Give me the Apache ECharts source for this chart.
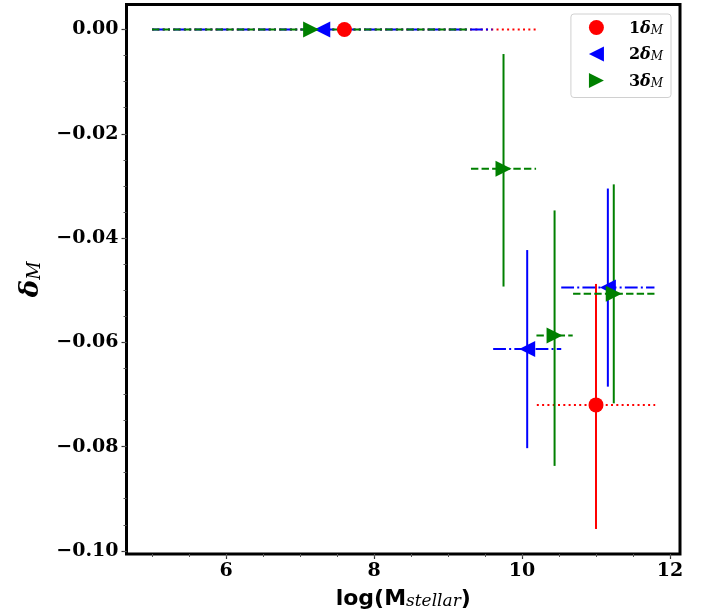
<!DOCTYPE html>
<html>
<head>
<meta charset="utf-8">
<script src="https://cdn.jsdelivr.net/npm/echarts@6/dist/echarts.min.js"></script>
<style>
  html, body { margin: 0; padding: 0; background: #fff; }
  #chart { width: 711px; height: 615px; }
</style>
</head>
<body>
<div id="chart"></div>
<script>
// values: x, y, x error (symmetric), y error below / above
var s1X = [7.6, 11.0];
var s1Y = [0.0, -0.072];
var s1XErr = [2.6, 0.8];
var s1YErrLo = [0, 0.0238];
var s1YErrHi = [0, 0.0232];

var s2X = [7.3, 10.07, 11.16];
var s2Y = [0.0, -0.0613, -0.0495];
var s2XErr = [2.3, 0.46, 0.63];
var s2YErrLo = [0, 0.019, 0.019];
var s2YErrHi = [0, 0.019, 0.019];

var s3X = [7.15, 9.75, 10.44, 11.24];
var s3Y = [0.0, -0.0267, -0.0587, -0.0507];
var s3XErr = [2.15, 0.44, 0.245, 0.55];
var s3YErrLo = [0, 0.0226, 0.025, 0.021];
var s3YErrHi = [0, 0.022, 0.024, 0.021];

var xTicks = [6, 8, 10, 12];
var yTicks = [-0.10, -0.08, -0.06, -0.04, -0.02, 0.00];
var xMinor = [5, 5.5, 6, 6.5, 7, 7.5, 8, 8.5, 9, 9.5, 10, 10.5, 11, 11.5, 12];
var yMinor = [-0.1, -0.095, -0.09, -0.085, -0.08, -0.075, -0.07, -0.065, -0.06, -0.055,
              -0.05, -0.045, -0.04, -0.035, -0.03, -0.025, -0.02, -0.015, -0.01, -0.005, 0];

var names = ['1δM', '2δM', '3δM'];
var colors = ['#ff0000', '#0000ff', '#008000'];

function rows(xs, ys, xe, lo, hi) {
  return xs.map(function (x, i) { return [x, ys[i], xe[i], lo[i], hi[i]]; });
}

function errorBars(color, dash) {
  return function (params, api) {
    var x = api.value(0), y = api.value(1), xe = api.value(2);
    var lo = api.value(3), hi = api.value(4);
    var l = api.coord([x - xe, y]);
    var r = api.coord([x + xe, y]);
    var kids = [{
      type: 'line',
      shape: { x1: l[0], y1: l[1], x2: r[0], y2: r[1] },
      style: { stroke: color, lineWidth: 2, lineDash: dash, fill: null }
    }];
    if (lo + hi > 0) {
      var b = api.coord([x, y - lo]);
      var t = api.coord([x, y + hi]);
      kids.push({
        type: 'line',
        shape: { x1: b[0], y1: b[1], x2: t[0], y2: t[1] },
        style: { stroke: color, lineWidth: 2, fill: null }
      });
    }
    return { type: 'group', children: kids };
  };
}

var data1 = rows(s1X, s1Y, s1XErr, s1YErrLo, s1YErrHi);
var data2 = rows(s2X, s2Y, s2XErr, s2YErrLo, s2YErrHi);
var data3 = rows(s3X, s3Y, s3XErr, s3YErrLo, s3YErrHi);

var tickFont = { fontFamily: 'DejaVu Serif', fontWeight: 'bold', fontSize: 19, color: '#000' };

var myChart = echarts.init(document.getElementById('chart'));
myChart.setOption({
  animation: false,
  grid: {
    left: 126.5, right: 31, top: 4.5, bottom: 61,
    show: true, borderColor: '#000', borderWidth: 3
  },
  xAxis: [
    {
      type: 'value', min: 4.655, max: 12.135, position: 'bottom',
      splitLine: { show: false },
      axisLine: { show: false, onZero: false },
      axisTick: { show: true, length: 5, lineStyle: { color: '#333', width: 1.2 }, customValues: xTicks },
      axisLabel: Object.assign({ margin: 8, customValues: xTicks, formatter: function (v) { return String(v); } }, tickFont),
      name: '{a|log(M}{s|stellar}{a|)}',
      nameLocation: 'middle',
      nameGap: 28,
      nameTextStyle: {
        rich: {
          a: { fontFamily: 'DejaVu Sans', fontWeight: 'bold', fontSize: 22, color: '#000', lineHeight: 28, verticalAlign: 'bottom' },
          s: { fontFamily: 'DejaVu Serif', fontStyle: 'italic', fontSize: 17, color: '#000', lineHeight: 28, verticalAlign: 'bottom' }
        }
      }
    },
    {
      type: 'value', min: 4.655, max: 12.135, position: 'bottom',
      splitLine: { show: false },
      axisLine: { show: false, onZero: false },
      axisTick: { show: true, length: 3, lineStyle: { color: '#555', width: 1 }, customValues: xMinor },
      axisLabel: { show: false }
    }
  ],
  yAxis: [
    {
      type: 'value', min: -0.1006, max: 0.0048, position: 'left',
      splitLine: { show: false },
      axisLine: { show: false, onZero: false },
      axisTick: { show: true, length: 5, lineStyle: { color: '#333', width: 1.2 }, customValues: yTicks },
      axisLabel: Object.assign({
        margin: 8, customValues: yTicks,
        formatter: function (v) { return (v < -1e-9 ? '\u2212' : '') + Math.abs(v).toFixed(2); }
      }, tickFont),
      name: '{d|δ}{s|M}',
      nameLocation: 'middle',
      nameRotate: 90,
      nameGap: 82,
      nameTextStyle: {
        rich: {
          d: { fontFamily: 'DejaVu Serif', fontStyle: 'italic', fontWeight: 'bold', fontSize: 26, color: '#000', lineHeight: 30, verticalAlign: 'bottom' },
          s: { fontFamily: 'DejaVu Serif', fontStyle: 'italic', fontSize: 18, color: '#000', lineHeight: 30, verticalAlign: 'bottom' }
        }
      }
    },
    {
      type: 'value', min: -0.1006, max: 0.0048, position: 'left',
      splitLine: { show: false },
      axisLine: { show: false, onZero: false },
      axisTick: { show: true, length: 3, lineStyle: { color: '#555', width: 1 }, customValues: yMinor },
      axisLabel: { show: false }
    }
  ],
  legend: {
    data: names,
    orient: 'vertical',
    right: 40,
    top: 14,
    itemWidth: 15,
    itemHeight: 15,
    itemGap: 10,
    padding: [6, 8, 8, 18],
    borderColor: '#d0d0d0',
    borderWidth: 1,
    borderRadius: 3,
    backgroundColor: 'rgba(255,255,255,0.8)',
    formatter: function (name) { return '{n|' + name.charAt(0) + '}{d|δ}{s|M}'; },
    textStyle: {
      rich: {
        n: { fontFamily: 'DejaVu Serif', fontWeight: 'bold', fontSize: 16, color: '#000', padding: [0, 0, 0, 20], lineHeight: 18, verticalAlign: 'bottom' },
        d: { fontFamily: 'DejaVu Serif', fontStyle: 'italic', fontWeight: 'bold', fontSize: 16, color: '#000', lineHeight: 18, verticalAlign: 'bottom' },
        s: { fontFamily: 'DejaVu Serif', fontStyle: 'italic', fontSize: 12, color: '#000', lineHeight: 18, verticalAlign: 'bottom' }
      }
    }
  },
  series: [
    { name: 'err1', type: 'custom', renderItem: errorBars(colors[0], [2, 3.3]), data: data1, encode: { x: 0, y: 1 }, z: 2 },
    { name: 'err2', type: 'custom', renderItem: errorBars(colors[1], [12.8, 3.2, 2, 3.2]), data: data2, encode: { x: 0, y: 1 }, z: 2 },
    { name: 'err3', type: 'custom', renderItem: errorBars(colors[2], [7.4, 3.2]), data: data3, encode: { x: 0, y: 1 }, z: 2 },
    { name: names[0], type: 'scatter', symbol: 'circle', symbolSize: 15, itemStyle: { color: colors[0], opacity: 1 },
      data: s1X.map(function (x, i) { return [x, s1Y[i]]; }), z: 3 },
    { name: names[1], type: 'scatter', symbol: 'path://M10,0 L10,10 L0,5 Z', symbolSize: 16, itemStyle: { color: colors[1], opacity: 1 },
      data: s2X.map(function (x, i) { return [x, s2Y[i]]; }), z: 3 },
    { name: names[2], type: 'scatter', symbol: 'path://M0,0 L10,5 L0,10 Z', symbolSize: 16, itemStyle: { color: colors[2], opacity: 1 },
      data: s3X.map(function (x, i) { return [x, s3Y[i]]; }), z: 3 }
  ]
});

window.addEventListener('resize', function () { myChart.resize(); });
</script>
</body>
</html>
